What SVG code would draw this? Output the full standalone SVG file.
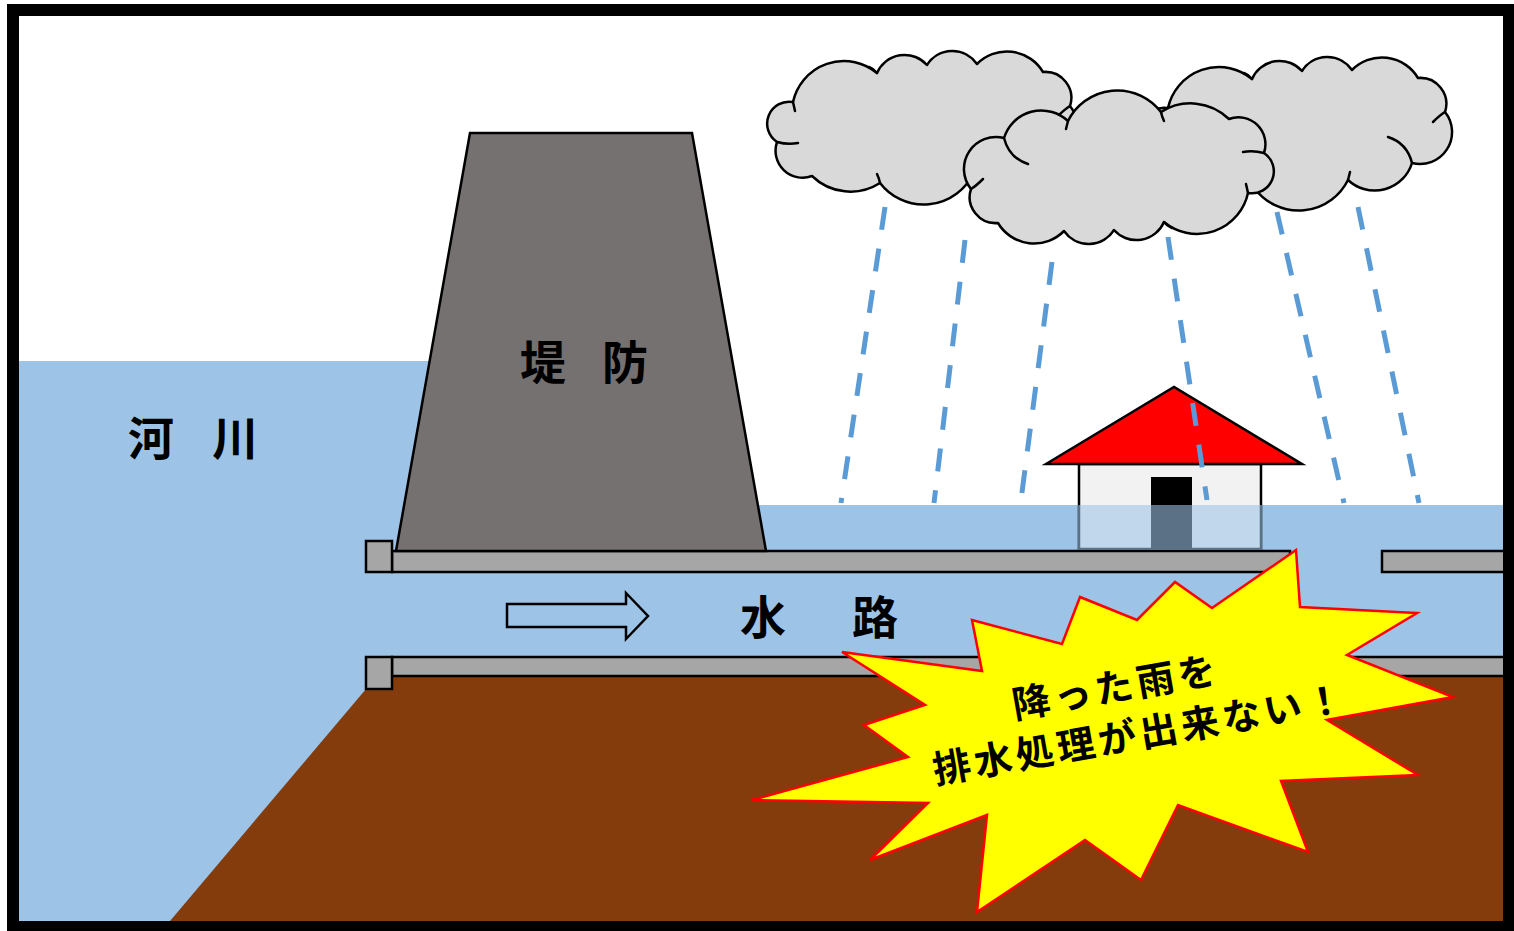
<svg xmlns="http://www.w3.org/2000/svg" xmlns:xlink="http://www.w3.org/1999/xlink" width="1514" height="931" viewBox="0 0 1514 931">
  <style>
    .water { fill: #9DC3E6; }
    .soil { fill: #843C0C; }
    .pipe { fill: #A6A6A6; stroke: #000; stroke-width: 2.5; }
    .levee { fill: #767171; stroke: #000; stroke-width: 2.5; }
    .cloud-body { fill: #D9D9D9; stroke: #000; stroke-width: 2.5; stroke-linejoin: round; }
    .cloud-line { fill: none; stroke: #000; stroke-width: 2.5; stroke-linecap: round; }
    .rain { stroke: #5B9BD5; stroke-width: 5; stroke-dasharray: 23 19; fill: none; }
    .label { font-family: "Noto Sans CJK JP", "Noto Sans", sans-serif; font-weight: bold; font-size: 46px; fill: #000; }
    .burst-text { font-family: "Noto Sans CJK JP", "Noto Sans", sans-serif; font-weight: bold; font-size: 38px; fill: #000; letter-spacing: 4px; text-anchor: middle; }
  </style>
  <defs>
    <!-- one cloud outline, drawn at its left-hand position -->
    <g id="cloud-shape">
      <path class="cloud-body" d="M793,102 A52,52 0 0 1 877,73 A30,30 0 0 1 927,65 A30,30 0 0 1 977,64 A42,42 0 0 1 1043,72 A26,26 0 0 1 1070,106 A32,32 0 0 1 1037,157 A39,39 0 0 1 973,174 A55,55 0 0 1 880,183 A55,55 0 0 1 812,176 A27,27 0 0 1 777,142 A22,22 0 0 1 793,102 Z"/>
      <path class="cloud-line" d="M777,142 Q788,145 798,143"/>
      <path class="cloud-line" d="M1058,116 Q1065,109 1070,106"/>
      <path class="cloud-line" d="M1013,131 Q1032,137 1037,157"/>
      <path class="cloud-line" d="M973,174 L975,166"/>
      <path class="cloud-line" d="M880,183 Q879,178 877,174"/>
      <path class="cloud-line" d="M793,102 L795,111"/>
      <path class="cloud-line" d="M869,67 Q874,69 877,73"/>
    </g>
  </defs>

  <rect x="0" y="0" width="1514" height="931" fill="#FFFFFF"/>

  <!-- river and flood water -->
  <g id="water">
    <rect class="water" x="19" y="361" width="600" height="560"/>
    <rect class="water" x="600" y="505" width="903" height="416"/>
  </g>

  <!-- ground under the drain -->
  <polygon id="ground" class="soil" points="170,921 366,689 392,689 392,676 1503,676 1503,921"/>

  <!-- drain channel walls -->
  <g id="drain">
    <rect class="pipe" x="392" y="551" width="898" height="21"/>
    <rect class="pipe" x="366" y="541" width="26" height="31"/>
    <rect class="pipe" x="1382" y="551" width="130" height="21"/>
    <rect class="pipe" x="392" y="657" width="1120" height="19"/>
    <rect class="pipe" x="366" y="657" width="26" height="32"/>
  </g>

  <!-- levee -->
  <g id="levee">
    <polygon class="levee" points="470,133 692,133 766,551 396,551"/>
  </g>

  <!-- house standing in flood water -->
  <g id="house">
    <rect x="1079" y="464" width="182" height="85" fill="#F2F2F2" stroke="#000" stroke-width="2.5"/>
    <rect x="1151" y="477" width="41" height="72" fill="#000"/>
    <polygon points="1046,464 1174,387 1302,464" fill="#FF0000" stroke="#000" stroke-width="2.5" stroke-linejoin="miter"/>
    <rect x="1078" y="505" width="184" height="45" fill="#9DC3E6" fill-opacity="0.58"/>
  </g>

  <!-- rain -->
  <g id="rain">
    <line class="rain" x1="885" y1="207" x2="841" y2="503"/>
    <line class="rain" x1="965" y1="240" x2="934" y2="503"/>
    <line class="rain" x1="1052" y1="262" x2="1021" y2="500"/>
    <line class="rain" x1="1168" y1="237" x2="1207" y2="500"/>
    <line class="rain" x1="1277" y1="212" x2="1344" y2="503"/>
    <line class="rain" x1="1358" y1="207" x2="1419" y2="503"/>
  </g>

  <!-- clouds -->
  <g id="cloud-left"><use xlink:href="#cloud-shape" href="#cloud-shape"/></g>
  <g id="cloud-right"><use xlink:href="#cloud-shape" href="#cloud-shape" transform="translate(375,6)"/></g>
  <g id="cloud-middle"><use xlink:href="#cloud-shape" href="#cloud-shape" transform="rotate(180 1020.5 147.5)"/></g>

  <!-- flow direction arrow -->
  <g id="flow-arrow">
    <polygon points="507,604 626,604 626,593 648,616 626,639 626,627 507,627" fill="none" stroke="#000" stroke-width="2.5" stroke-linejoin="miter"/>
  </g>

  <!-- labels -->
  <g id="labels">
    <text class="label" x="128" y="455" letter-spacing="-4">河　川</text>
    <text class="label" x="520" y="379" letter-spacing="-5">堤　防</text>
    <text class="label" x="740" y="634" letter-spacing="10">水　路</text>
  </g>

  <!-- warning burst -->
  <g id="warning">
    <polygon points="842,652 982,671 972,620 1062,644 1080,597 1137,620 1175,582 1212,608 1296,550 1300,607 1417,613 1347,655 1453,697 1327,720 1418,775 1281,781 1308,852 1178,805 1141,880 1085,840 977,912 987,815 870,860 928,803 752,800 908,757 864,725 925,705" fill="#FFFF00" stroke="#FF0000" stroke-width="2.5" stroke-linejoin="miter"/>
    <text class="burst-text" transform="translate(1114,688) rotate(-10)" x="2" y="13">降った雨を</text>
    <text class="burst-text" transform="translate(1138,735) rotate(-10)" x="2" y="13">排水処理が出来ない！</text>
  </g>

  <!-- frame -->
  <rect id="frame" x="13" y="10" width="1496" height="917" fill="none" stroke="#000" stroke-width="12"/>
</svg>
